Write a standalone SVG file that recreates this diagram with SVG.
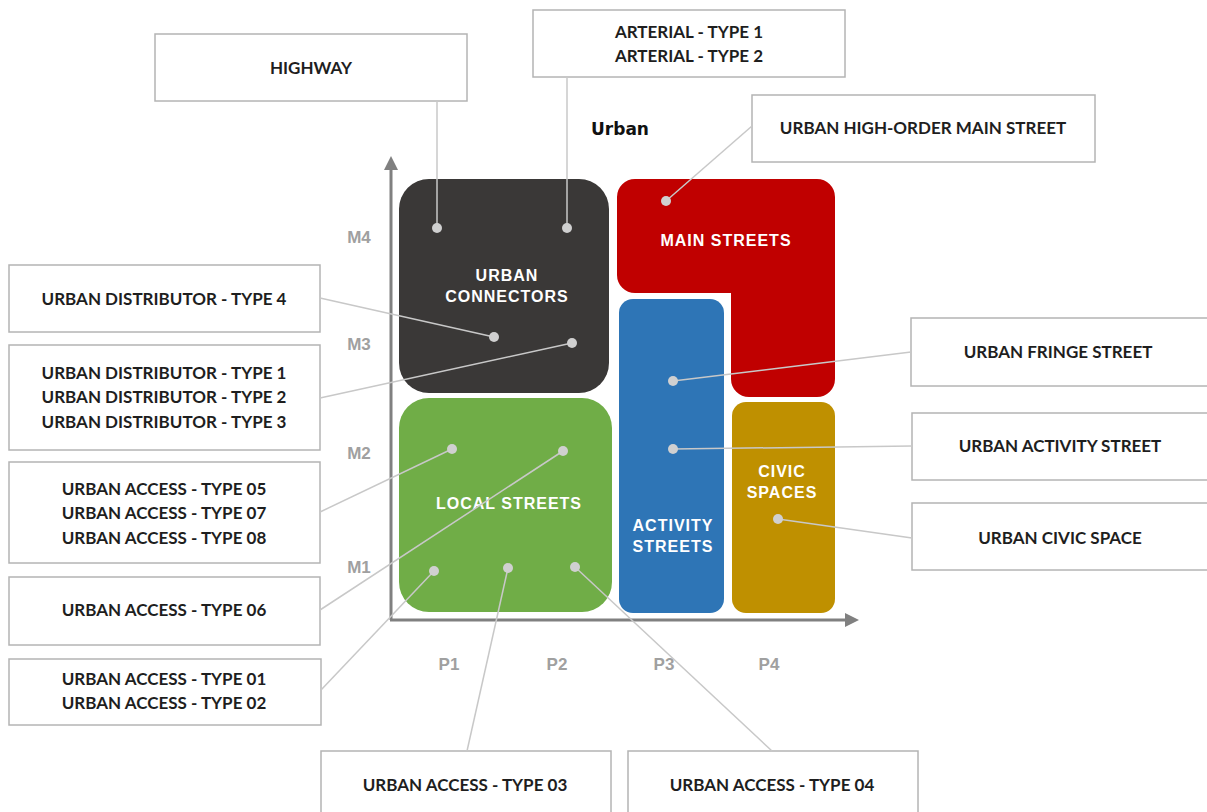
<svg xmlns="http://www.w3.org/2000/svg" width="1207" height="812" viewBox="0 0 1207 812">
<style>
.box{fill:#fff;stroke:#b4b4b4;stroke-width:1.5}
.bt{font-family:Lato,"Liberation Sans",sans-serif;font-weight:bold;font-size:17px;fill:#1e1e1e;text-anchor:middle}
.wt{font-family:"Liberation Sans",Arial,sans-serif;font-weight:bold;font-size:16px;fill:#fff;text-anchor:middle;letter-spacing:1px}
.ax{font-family:"Liberation Sans",Arial,sans-serif;font-weight:bold;font-size:17px;fill:#a0a0a0;text-anchor:middle}
.ln{stroke:#c8c8c8;stroke-width:1.5;fill:none}
.dot{fill:#d0d0d0}
</style>
<rect width="1207" height="812" fill="#fff"/>
<g id="axes">
<line x1="391" y1="620" x2="391" y2="168" stroke="#808080" stroke-width="3"/>
<polygon points="391,156 384,170 398,170" fill="#808080"/>
<line x1="390" y1="620" x2="847" y2="620" stroke="#808080" stroke-width="3"/>
<polygon points="859,620 845,613 845,627" fill="#808080"/>
<text class="ax" x="359" y="243">M4</text>
<text class="ax" x="359" y="350">M3</text>
<text class="ax" x="359" y="459">M2</text>
<text class="ax" x="359" y="573">M1</text>
<text class="ax" x="449" y="670">P1</text>
<text class="ax" x="557" y="670">P2</text>
<text class="ax" x="664" y="670">P3</text>
<text class="ax" x="769" y="670">P4</text>
<text x="620" y="135" font-family="'DejaVu Sans',sans-serif" font-weight="bold" font-size="17" fill="#111" text-anchor="middle">Urban</text>
</g>
<g id="urban-connectors">
<rect x="399" y="179" width="210" height="214" rx="30" fill="#3a3837"/>
<text class="wt" x="507" y="281">URBAN</text>
<text class="wt" x="507" y="302">CONNECTORS</text>
</g>
<g id="main-streets">
<path d="M635,179 H817 A18,18 0 0 1 835,197 V379 A18,18 0 0 1 817,397 H749 A18,18 0 0 1 731,379 V293 H635 A18,18 0 0 1 617,275 V197 A18,18 0 0 1 635,179 Z" fill="#c00000"/>
<text class="wt" x="726" y="246">MAIN STREETS</text>
</g>
<g id="local-streets">
<rect x="399" y="398" width="213" height="214" rx="30" fill="#70ad47"/>
<text class="wt" x="509" y="509">LOCAL STREETS</text>
</g>
<g id="activity-streets">
<rect x="619" y="299" width="105" height="314" rx="14" fill="#2e75b6"/>
<text class="wt" x="673" y="531">ACTIVITY</text>
<text class="wt" x="673" y="552">STREETS</text>
</g>
<g id="civic-spaces">
<rect x="732" y="402" width="103" height="211" rx="14" fill="#bf9000"/>
<text class="wt" x="782" y="477">CIVIC</text>
<text class="wt" x="782" y="498">SPACES</text>
</g>
<g id="highway"><rect class="box" x="155" y="34" width="312" height="67"/><text class="bt" x="311" y="74">HIGHWAY</text></g>
<g id="arterial"><rect class="box" x="533" y="10" width="312" height="67"/><text class="bt" x="689" y="38">ARTERIAL - TYPE 1</text><text class="bt" x="689" y="62">ARTERIAL - TYPE 2</text></g>
<g id="high-order"><rect class="box" x="752" y="95" width="343" height="67"/><text class="bt" x="923" y="134">URBAN HIGH-ORDER MAIN STREET</text></g>
<g id="dist4"><rect class="box" x="9" y="265" width="311" height="67"/><text class="bt" x="164" y="305">URBAN DISTRIBUTOR - TYPE 4</text></g>
<g id="dist123"><rect class="box" x="9" y="345" width="311" height="105"/><text class="bt" x="164" y="379">URBAN DISTRIBUTOR - TYPE 1</text><text class="bt" x="164" y="403">URBAN DISTRIBUTOR - TYPE 2</text><text class="bt" x="164" y="428">URBAN DISTRIBUTOR - TYPE 3</text></g>
<g id="access050708"><rect class="box" x="9" y="462" width="311" height="101"/><text class="bt" x="164" y="495">URBAN ACCESS - TYPE 05</text><text class="bt" x="164" y="519">URBAN ACCESS - TYPE 07</text><text class="bt" x="164" y="544">URBAN ACCESS - TYPE 08</text></g>
<g id="access06"><rect class="box" x="9" y="577" width="311" height="68"/><text class="bt" x="164" y="616">URBAN ACCESS - TYPE 06</text></g>
<g id="access0102"><rect class="box" x="9" y="659" width="312" height="66"/><text class="bt" x="164" y="685">URBAN ACCESS - TYPE 01</text><text class="bt" x="164" y="709">URBAN ACCESS - TYPE 02</text></g>
<g id="access03"><rect class="box" x="321" y="751" width="290" height="70"/><text class="bt" x="465" y="791">URBAN ACCESS - TYPE 03</text></g>
<g id="access04"><rect class="box" x="628" y="751" width="290" height="70"/><text class="bt" x="772" y="791">URBAN ACCESS - TYPE 04</text></g>
<g id="fringe"><rect class="box" x="911" y="318" width="300" height="68"/><text class="bt" x="1058" y="358">URBAN FRINGE STREET</text></g>
<g id="activity"><rect class="box" x="912" y="413" width="300" height="67"/><text class="bt" x="1060" y="452">URBAN ACTIVITY STREET</text></g>
<g id="civic"><rect class="box" x="912" y="503" width="300" height="67"/><text class="bt" x="1060" y="544">URBAN CIVIC SPACE</text></g>
<g id="connectors">
<line class="ln" x1="437" y1="101" x2="437" y2="228"/>
<line class="ln" x1="567" y1="77" x2="567" y2="228"/>
<line class="ln" x1="752" y1="126" x2="666" y2="201"/>
<line class="ln" x1="320" y1="298" x2="494" y2="337"/>
<line class="ln" x1="320" y1="398" x2="572" y2="343"/>
<line class="ln" x1="911" y1="352" x2="673" y2="381"/>
<line class="ln" x1="912" y1="446" x2="673" y2="449"/>
<line class="ln" x1="912" y1="538" x2="778" y2="519"/>
<line class="ln" x1="320" y1="512" x2="452" y2="449"/>
<line class="ln" x1="320" y1="610" x2="563" y2="451"/>
<line class="ln" x1="321" y1="690" x2="434" y2="571"/>
<line class="ln" x1="467" y1="751" x2="508" y2="568"/>
<line class="ln" x1="772" y1="751" x2="575" y2="567"/>
<circle class="dot" cx="437" cy="228" r="5"/>
<circle class="dot" cx="567" cy="228" r="5"/>
<circle class="dot" cx="666" cy="201" r="5"/>
<circle class="dot" cx="494" cy="337" r="5"/>
<circle class="dot" cx="572" cy="343" r="5"/>
<circle class="dot" cx="673" cy="381" r="5"/>
<circle class="dot" cx="673" cy="449" r="5"/>
<circle class="dot" cx="778" cy="519" r="5"/>
<circle class="dot" cx="452" cy="449" r="5"/>
<circle class="dot" cx="563" cy="451" r="5"/>
<circle class="dot" cx="434" cy="571" r="5"/>
<circle class="dot" cx="508" cy="568" r="5"/>
<circle class="dot" cx="575" cy="567" r="5"/>
</g>
</svg>
